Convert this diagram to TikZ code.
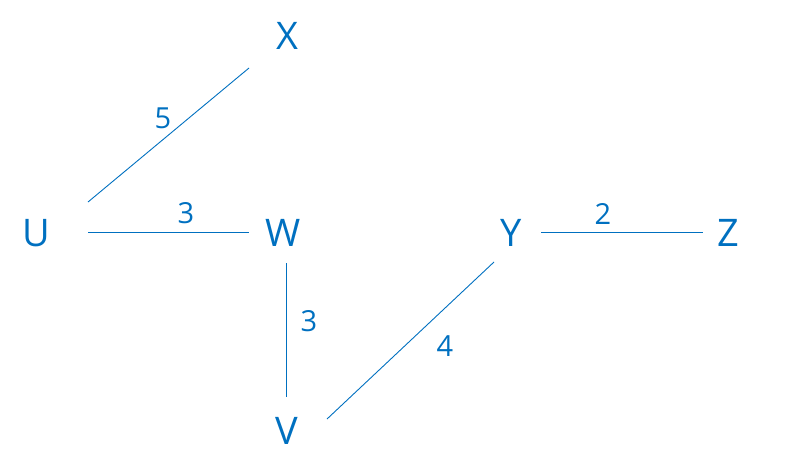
\documentclass[tikz,border=0pt]{standalone}
\usepackage{fontspec}
\setmainfont{Open Sans}
\definecolor{gblue}{HTML}{0070C0}
\begin{document}
\begin{tikzpicture}[x=1pt,y=-1pt,
  vert/.style={text=gblue,font=\fontsize{38}{40}\selectfont,inner sep=0pt},
  wlab/.style={text=gblue,font=\fontsize{29}{31}\selectfont,inner sep=0pt},
  edge/.style={draw=gblue,line width=0.9pt}]
\useasboundingbox (0,0) rectangle (799,474);
\node[vert] (X) at (287,36) {X};
\node[vert] (U) at (36,233) {U};
\node[vert] (W) at (283,233) {W};
\node[vert] (Y) at (511,233) {Y};
\node[vert] (Z) at (728,233) {Z};
\node[vert] (V) at (287,431) {V};
\draw[edge] ([shift={(52,-31)}]U.center) -- ([shift={(-38,32)}]X.center);
\draw[edge] ([shift={(52,-1)}]U.center) -- ([shift={(-34,-1)}]W.center);
\draw[edge] ([shift={(3,30)}]W.center) -- ([shift={(-1,-34)}]V.center);
\draw[edge] ([shift={(40,-12)}]V.center) -- ([shift={(-17,29)}]Y.center);
\draw[edge] ([shift={(30,-1)}]Y.center) -- ([shift={(-25,-1)}]Z.center);
\node[wlab] (l1) at (163,118) {5};
\node[wlab] (l2) at (186,213) {3};
\node[wlab] (l3) at (309,321) {3};
\node[wlab] (l4) at (445,346) {4};
\node[wlab] (l5) at (603,214) {2};
\end{tikzpicture}
\end{document}
